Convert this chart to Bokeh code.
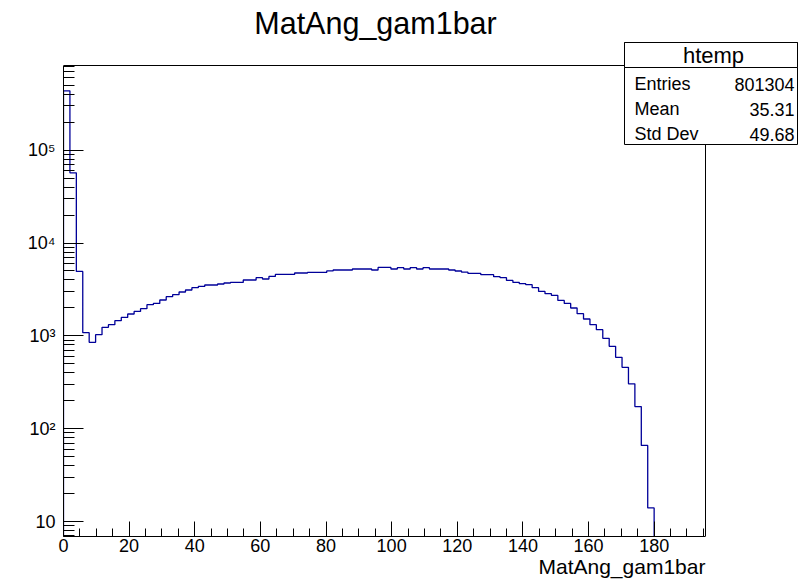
import numpy as np
from bokeh.plotting import figure
from bokeh.models import FixedTicker, Label, BoxAnnotation, Title
from bokeh.embed import file_html
from bokeh.resources import INLINE

# ---------------- data ----------------
TITLE = "MatAng_gam1bar"
X_LABEL = "MatAng_gam1bar"
N_BINS = 100
X_MIN, X_MAX = 0.0, 195.65
Y_MIN, Y_MAX = 6.9, 8.17e5

counts = [436000, 57000, 4940, 1081, 851, 1030, 1235, 1320, 1458, 1581,
          1720, 1835, 1963, 2167, 2238, 2435, 2642, 2776, 2968, 3119,
          3302, 3410, 3531, 3531, 3620, 3710, 3766, 3766, 3997, 3997,
          4232, 4098, 4371, 4592, 4592, 4592, 4755, 4755, 4826, 4826,
          4826, 5007, 5120, 5120, 5120, 5250, 5250, 5250, 5120, 5462,
          5462, 5250, 5421, 5250, 5421, 5250, 5421, 5250, 5250, 5250,
          5120, 4995, 4850, 4708, 4708, 4558, 4558, 4338, 4232, 3958,
          3766, 3647, 3557, 3302, 3013, 2847, 2729, 2411, 2238, 1997,
          1734, 1520, 1320, 1166, 940, 771, 587, 458, 304, 173,
          66, 14, 0, 0, 0, 0, 0, 0, 0, 0]

x_major_ticks = [0, 20, 40, 60, 80, 100, 120, 140, 160, 180]
y_major_ticks = [10, 100, 1000, 10000, 100000]
y_tick_labels = ["10", "10\u00b2", "10\u00b3", "10\u2074", "10\u2075"]

stats_name = "htemp"
stats_keys = ["Entries", "Mean", "Std Dev"]
stats_vals = ["801304", "35.31", "49.68"]

# ---------------- layout ----------------
W, H = 801, 584
# ROOT frame (histogram axes box) in canvas pixels
RFL, RFR, RFT, RFB = 63, 705, 65, 536
# Bokeh frame extends to the right and top canvas edges so that
# the title and statistics box can live inside it
FL, FR, FT, FB = RFL, W, 0, RFB
FONT = "Liberation Sans"
LINE_COLOR = "#000099"

LYMIN, LYMAX = np.log10(Y_MIN), np.log10(Y_MAX)
X_PER_PX = (X_MAX - X_MIN) / (RFR - RFL)
DEC_PER_PX = (LYMAX - LYMIN) / (RFB - RFT)


def xd(px):
    return X_MIN + (px - RFL) * X_PER_PX


def yd(py):
    return 10 ** (LYMAX - (py - RFT) * DEC_PER_PX)


x_range = (xd(FL), xd(FR))
y_range = (yd(FB), yd(FT))

p = figure(width=W, height=H, x_range=x_range, y_range=y_range,
           y_axis_type="log", output_backend="svg", toolbar_location=None,
           min_border_left=FL, min_border_right=W - FR,
           min_border_top=FT, min_border_bottom=H - FB)
p.title.visible = False
p.grid.visible = False
p.background_fill_color = "white"
p.border_fill_color = "white"
p.outline_line_color = None

# top and right edges of the ROOT frame
p.line([X_MIN, X_MAX, X_MAX], [Y_MAX, Y_MAX, Y_MIN], line_color="black",
       line_width=1)

# histogram outline
c = np.array(counts, dtype=float)
edges = X_MIN + np.arange(N_BINS + 1) * (X_MAX - X_MIN) / N_BINS
floor = Y_MIN / 10.0
cv = np.where(c > 0, c, floor)
xs = np.repeat(edges, 2)
ys = np.concatenate([[floor], np.repeat(cv, 2), [floor]])
p.line(xs, ys, line_color=LINE_COLOR, line_width=1.3)

# x axis
x_minor = [v for v in range(5, 196, 5) if v % 20 != 0]
xa = p.xaxis[0]
xa.bounds = (X_MIN, X_MAX)
xa.ticker = FixedTicker(ticks=x_major_ticks, minor_ticks=x_minor)
xa.major_tick_in = 15
xa.major_tick_out = 0
xa.minor_tick_in = 8
xa.minor_tick_out = 0
xa.major_label_standoff = 2
xa.major_label_text_font = FONT
xa.major_label_text_font_size = "18px"
xa.major_label_text_color = "black"
xa.axis_line_color = "black"
xa.major_tick_line_color = "black"
xa.minor_tick_line_color = "black"

# x-axis title, right-aligned with the end of the ROOT frame
XLAB_LEFT = 538
p.add_layout(Title(text=X_LABEL, align="left", offset=XLAB_LEFT - FL,
                   vertical_align="top", standoff=0, text_font=FONT,
                   text_font_size="21px", text_font_style="normal",
                   text_color="black"), "below")

# y axis
y_minor = []
for e in range(0, 6):
    for k in range(2, 10):
        v = k * 10 ** e
        if Y_MIN <= v <= Y_MAX:
            y_minor.append(v)
ya = p.yaxis[0]
ya.bounds = (Y_MIN, Y_MAX)
ya.ticker = FixedTicker(ticks=y_major_ticks, minor_ticks=y_minor)
ya.major_label_overrides = {t: s for t, s in zip(y_major_ticks, y_tick_labels)}
ya.major_tick_in = 20
ya.major_tick_out = 0
ya.minor_tick_in = 11
ya.minor_tick_out = 0
ya.major_label_standoff = 8
ya.major_label_text_font = FONT
ya.major_label_text_font_size = "18px"
ya.major_label_text_color = "black"
ya.axis_line_color = "black"
ya.major_tick_line_color = "black"
ya.minor_tick_line_color = "black"

# title
p.add_layout(Label(x=xd(375), y=yd(22), text=TITLE, text_align="center",
                   text_baseline="middle", text_font=FONT,
                   text_font_size="30.5px", text_color="black"))

# stats box
bl, br, bt, bb, bh = 624, 797, 42, 144, 67
p.add_layout(BoxAnnotation(left=xd(bl), right=xd(br), top=yd(bt), bottom=yd(bb),
                           fill_color="white", fill_alpha=1.0,
                           line_color="black", line_alpha=1.0, line_width=1,
                           level="overlay"))
p.add_layout(BoxAnnotation(left=xd(bl), right=xd(br), top=yd(bt), bottom=yd(bh),
                           fill_color="white", fill_alpha=1.0,
                           line_color="black", line_alpha=1.0, line_width=1,
                           level="overlay"))
p.add_layout(Label(x=xd(713), y=yd(54.5), text=stats_name,
                   text_align="center", text_baseline="middle", text_font=FONT,
                   text_font_size="22px", text_color="black", level="overlay"))
row_y = [83.5, 108.5, 133.5]
for k, v, ry in zip(stats_keys, stats_vals, row_y):
    p.add_layout(Label(x=xd(634), y=yd(ry), text=k, text_align="left",
                       text_baseline="middle", text_font=FONT,
                       text_font_size="18px", text_color="black", level="overlay"))
    p.add_layout(Label(x=xd(794), y=yd(ry), text=v, text_align="right",
                       text_baseline="middle", text_font=FONT,
                       text_font_size="18px", text_color="black", level="overlay"))

open("out.html", "w").write(file_html(p, INLINE))
